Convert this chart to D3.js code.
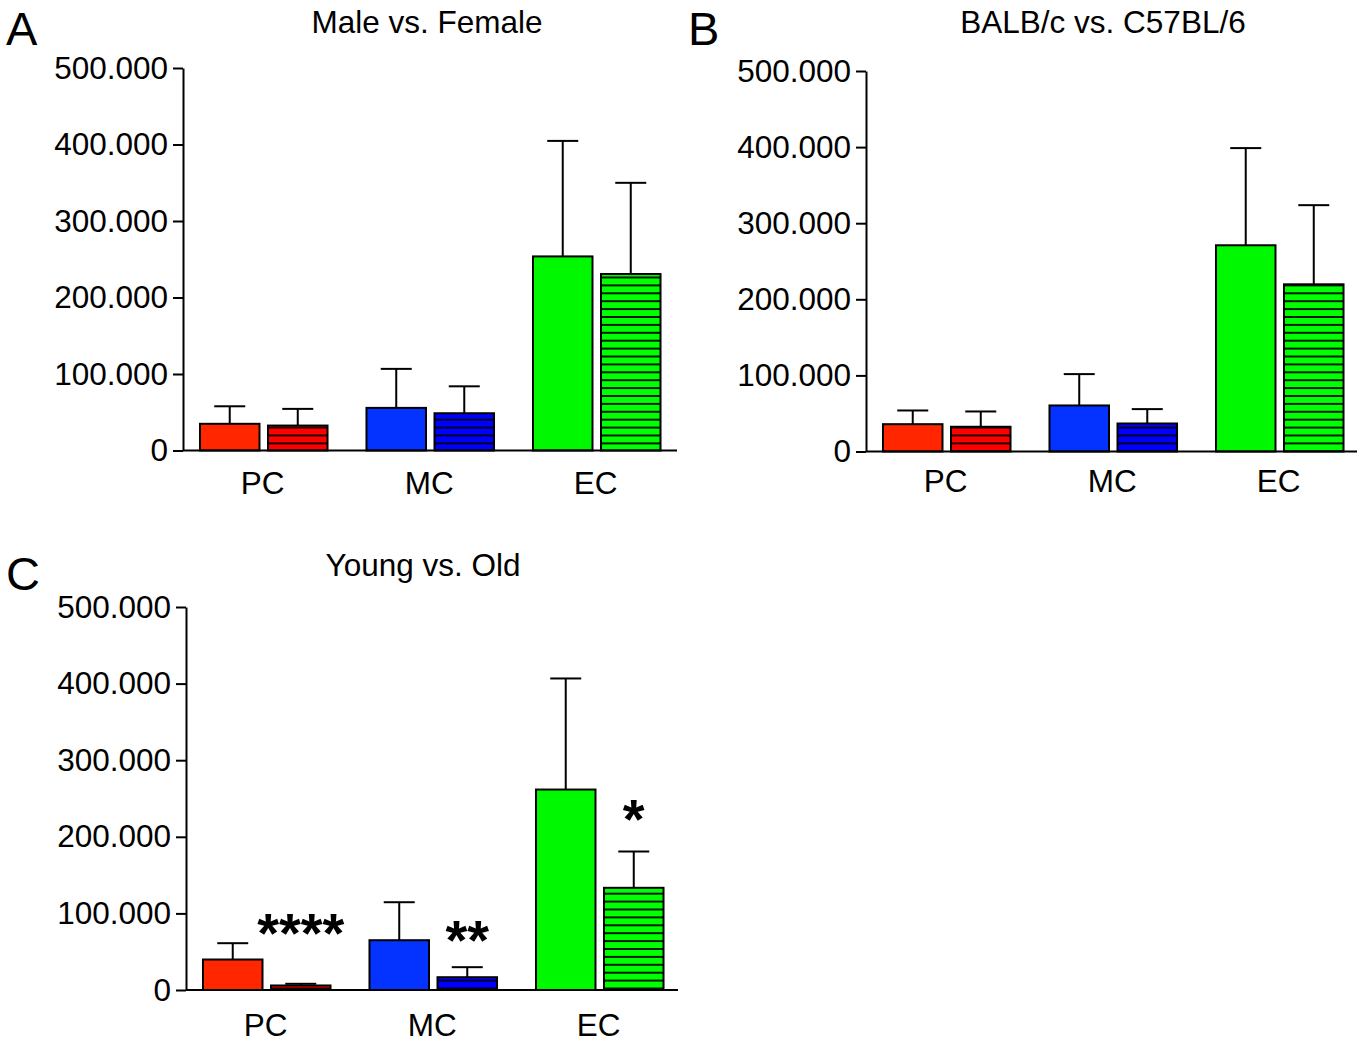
<!DOCTYPE html>
<html>
<head>
<meta charset="utf-8">
<script src="https://cdn.jsdelivr.net/npm/d3@7"></script>
<style>
  body { margin: 0; background: #fff; }
  text { font-family: "Liberation Sans", Arial, sans-serif; fill: #000; }
</style>
</head>
<body>
<svg id="chart" width="1368" height="1044"></svg>
<script>
// ---- data ----
var categories = ["PC", "MC", "EC"];
var panelTitles = ["Male vs. Female", "BALB/c vs. C57BL/6", "Young vs. Old"];
var panelLetters = ["A", "B", "C"];
var yTickValues = [0, 100000, 200000, 300000, 400000, 500000];

var maleMean   = [34900, 55700, 253700];
var maleSD     = [22900, 51000, 151000];
var femaleMean = [32600, 48700, 230700];
var femaleSD   = [21800, 35200, 119200];

var balbMean = [35900, 60500, 271000];
var balbSD   = [18000, 41200, 127700];
var c57Mean  = [32500, 36800, 219700];
var c57SD    = [20100, 18900, 104000];

var youngMean = [39800, 65000, 261700];
var youngSD   = [21300, 49600, 145000];
var oldMean   = [5900, 16700, 133400];
var oldSD     = [2200, 13100, 47400];
var oldSig    = ["****", "**", "*"];
var oldSigY   = [49000, 41000, 198000];

var solidColors   = ["#FF2600", "#0433FF", "#00F900"];
var hatchedColors = ["#FF0000", "#0000FF", "#00FF00"];

// ---- layout ----
var panels = [
  {left: 183, right: 677, top: 68, bottom: 450.5, labelDy: 43,
   titleX: 427, titleY: 33, letterX: 6, letterY: 45,
   solid: maleMean, solidSD: maleSD, hatched: femaleMean, hatchedSD: femaleSD},
  {left: 866, right: 1357, top: 71, bottom: 451.5, labelDy: 40,
   titleX: 1103, titleY: 33, letterX: 688, letterY: 45,
   solid: balbMean, solidSD: balbSD, hatched: c57Mean, hatchedSD: c57SD},
  {left: 186, right: 678, top: 607, bottom: 990, labelDy: 46,
   titleX: 423, titleY: 576, letterX: 6, letterY: 590,
   solid: youngMean, solidSD: youngSD, hatched: oldMean, hatchedSD: oldSD,
   sig: oldSig, sigY: oldSigY}
];

var svg = d3.select("#chart");
var defs = svg.append("defs");
var deLocale = d3.formatLocale({decimal: ",", thousands: ".", grouping: [3], currency: ["", ""]});
var fmt = deLocale.format(",d");
var fontSize = 31.5;

// hatch patterns, one per colour
hatchedColors.forEach(function(c, i){
  var p = defs.append("pattern")
    .attr("id", "hatch" + i)
    .attr("patternUnits", "userSpaceOnUse")
    .attr("width", 10).attr("height", 7.9);
  p.append("rect").attr("width", 10).attr("height", 7.9).attr("fill", c);
  p.append("line").attr("x1", 0).attr("x2", 10).attr("y1", 1).attr("y2", 1)
    .attr("stroke", "#000").attr("stroke-width", 1.8);
});

panels.forEach(function(pn, pi){
  var g = svg.append("g");

  var y = d3.scaleLinear().domain([0, 500000]).range([pn.bottom, pn.top]);
  var start = pn.left - 2.5;
  var x = d3.scaleBand().domain(categories)
    .range([start, start + 499.5])
    .paddingInner(0.234).paddingOuter(0.117);
  var sub = d3.scaleBand().domain(["solid", "hatched"])
    .range([0, x.bandwidth()]).paddingInner(0.125);

  // y axis
  var yAxis = g.append("g")
    .attr("transform", "translate(" + pn.left + ",0)")
    .call(d3.axisLeft(y).tickValues(yTickValues).tickFormat(fmt)
      .tickSize(10).tickSizeOuter(0).tickPadding(5));
  yAxis.select(".domain").attr("stroke-width", 2);
  yAxis.selectAll(".tick line").attr("stroke-width", 2);
  yAxis.selectAll("text").attr("font-size", fontSize).attr("font-family", null).attr("fill", "#000");

  var bars = [];
  categories.forEach(function(c, i){
    bars.push({cat: c, i: i, kind: "solid", v: pn.solid[i], sd: pn.solidSD[i]});
    bars.push({cat: c, i: i, kind: "hatched", v: pn.hatched[i], sd: pn.hatchedSD[i]});
  });

  function bx(d){ return x(d.cat) + sub(d.kind); }
  function cx(d){ return bx(d) + sub.bandwidth() / 2; }

  // error bars (upper only)
  g.selectAll(".err").data(bars).enter().append("line")
    .attr("x1", cx).attr("x2", cx)
    .attr("y1", function(d){ return y(d.v); })
    .attr("y2", function(d){ return y(d.v + d.sd); })
    .attr("stroke", "#000").attr("stroke-width", 2);
  g.selectAll(".cap").data(bars).enter().append("line")
    .attr("x1", function(d){ return cx(d) - 15.5; })
    .attr("x2", function(d){ return cx(d) + 15.5; })
    .attr("y1", function(d){ return y(d.v + d.sd); })
    .attr("y2", function(d){ return y(d.v + d.sd); })
    .attr("stroke", "#000").attr("stroke-width", 2);

  g.selectAll(".bar").data(bars).enter().append("rect")
    .attr("x", bx)
    .attr("y", function(d){ return y(d.v); })
    .attr("width", sub.bandwidth())
    .attr("height", function(d){ return y(0) - y(d.v); })
    .attr("fill", function(d){ return d.kind == "solid" ? solidColors[d.i] : "url(#hatch" + d.i + ")"; })
    .attr("stroke", "#000").attr("stroke-width", 2);

  // x axis line
  g.append("line")
    .attr("x1", pn.left).attr("x2", pn.right)
    .attr("y1", y(0)).attr("y2", y(0))
    .attr("stroke", "#000").attr("stroke-width", 2);

  // category labels
  g.selectAll(".cat").data(categories).enter().append("text")
    .attr("x", function(d){ return x(d) + x.bandwidth() / 2 - 1; })
    .attr("y", y(0) + pn.labelDy)
    .attr("text-anchor", "middle")
    .attr("font-size", fontSize)
    .text(function(d){ return d; });

  // significance marks
  if (pn.sig) {
    g.selectAll(".sig").data(pn.sig).enter().append("text")
      .attr("x", function(d, i){ return x(categories[i]) + sub("hatched") + sub.bandwidth() / 2; })
      .attr("y", function(d, i){ return y(pn.sigY[i]); })
      .attr("text-anchor", "middle")
      .attr("font-size", 56)
      .attr("font-weight", "bold")
      .text(function(d){ return d; });
  }

  // title and letter
  g.append("text").attr("x", pn.titleX).attr("y", pn.titleY)
    .attr("text-anchor", "middle").attr("font-size", fontSize)
    .text(panelTitles[pi]);
  g.append("text").attr("x", pn.letterX).attr("y", pn.letterY)
    .attr("font-size", 47)
    .text(panelLetters[pi]);
});
</script>
</body>
</html>
